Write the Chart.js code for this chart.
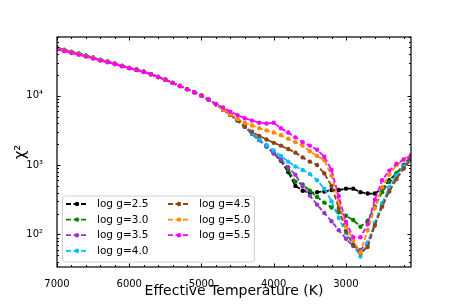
<!DOCTYPE html>
<html>
<head>
<meta charset="utf-8">
<script src="https://cdn.jsdelivr.net/npm/chart.js@4.4.1/dist/chart.umd.min.js"></script>
<style>
  html, body { margin: 0; padding: 0; background: #fff; }
  #wrap { width: 457px; height: 305px; }
</style>
</head>
<body>
<div id="wrap"><canvas id="chi2Chart" width="457" height="305"></canvas></div>
<script>
// Effective temperature grid (K)
const temperatures = [
    7000, 6900, 6800, 6700, 6600, 6500, 6400, 6300, 6200, 6100,
    6000, 5900, 5800, 5700, 5600, 5500, 5400, 5300, 5200, 5100,
    5000, 4900, 4800, 4700, 4600, 4500, 4400, 4300, 4200, 4100,
    4000, 3900, 3800, 3700, 3600, 3500, 3400, 3300, 3200, 3100,
    3000, 2900, 2800, 2700, 2600, 2500, 2400, 2300, 2200, 2100
];

// chi^2 per surface gravity
const chiLogg25 = [
    49000, 45700, 42700, 40300, 37600, 35100, 32700, 30900, 28800, 26900,
    25100, 23700, 22100, 20400, 18600, 17000, 15300, 13800, 12400, 11200,
    10000, 8710, 7500, 6310, 5310, 4420, 3550, 2820, 2290, 1860,
    1480, 1150, 794, 501, 427, 398, 407, 417, 437, 437,
    457, 457, 407, 389, 389, 457, 603, 759, 1000, 1320
];
const chiLogg30 = [
    49000, 45700, 42700, 40300, 37600, 35100, 32700, 30900, 28800, 26900,
    25100, 23700, 22100, 20400, 18600, 17000, 15300, 13800, 12400, 11200,
    10000, 8710, 7500, 6310, 5310, 4420, 3550, 2820, 2290, 1860,
    1480, 1175, 851, 575, 525, 427, 347, 288, 245, 209,
    186, 162, 129, 158, 251, 407, 575, 759, 1000, 1320
];
const chiLogg35 = [
    49000, 45700, 42700, 40300, 37600, 35100, 32700, 30900, 28800, 26900,
    25100, 23700, 22100, 20400, 18600, 17000, 15300, 13800, 12400, 11200,
    10000, 8710, 7500, 6310, 5310, 4420, 3550, 2820, 2290, 1860,
    1480, 1200, 933, 724, 490, 363, 269, 204, 155, 115,
    87, 68, 60, 76, 141, 263, 457, 692, 955, 1260
];
const chiLogg40 = [
    48500, 45300, 42400, 40000, 37400, 35000, 32600, 30800, 28700, 26800,
    25000, 23600, 22000, 20300, 18600, 17000, 15300, 13800, 12400, 11200,
    10000, 8710, 7500, 6310, 5310, 4420, 3630, 2880, 2340, 1950,
    1620, 1350, 1120, 955, 851, 741, 603, 457, 302, 174,
    105, 71, 48, 74, 148, 282, 479, 708, 955, 1200
];
const chiLogg45 = [
    48500, 45300, 42400, 40000, 37400, 35000, 32600, 30800, 28700, 26800,
    25000, 23600, 22000, 20300, 18600, 17000, 15300, 13800, 12400, 11200,
    10000, 8710, 7500, 6310, 5310, 4420, 3630, 3020, 2630, 2340,
    2090, 1905, 1700, 1510, 1290, 1120, 1000, 759, 501, 240,
    112, 71, 54, 66, 135, 251, 417, 631, 891, 1200
];
const chiLogg50 = [
    47500, 44600, 41800, 39500, 37000, 34700, 32400, 30600, 28600, 26700,
    25000, 23600, 22000, 20300, 18600, 17000, 15300, 13800, 12400, 11200,
    10000, 8710, 7500, 6310, 5370, 4620, 4070, 3720, 3390, 3160,
    2950, 2690, 2400, 2140, 1905, 1585, 1350, 1175, 708, 302,
    132, 83, 55, 115, 240, 479, 724, 1000, 1200, 1410
];
const chiLogg55 = [
    46500, 43800, 41200, 38900, 36500, 34200, 32000, 30300, 28300, 26500,
    24800, 23400, 21900, 20300, 18600, 17000, 15300, 13800, 12400, 11200,
    10000, 8710, 7590, 6760, 5890, 5250, 4730, 4370, 4070, 3980,
    4070, 3390, 2950, 2510, 2140, 1905, 1660, 1320, 851, 355,
    151, 91, 91, 141, 316, 603, 832, 1050, 1200, 1380
];

const seriesLabels = ['log g=2.5', 'log g=3.0', 'log g=3.5', 'log g=4.0', 'log g=4.5', 'log g=5.0', 'log g=5.5'];
const seriesValues = [chiLogg25, chiLogg30, chiLogg35, chiLogg40, chiLogg45, chiLogg50, chiLogg55];
const seriesColors = ['#000000', '#008000', '#9932cc', '#00bfff', '#8b4513', '#ff8c00', '#ff00ff'];

// Axis ticks
const xTickValues = [7000, 6000, 5000, 4000, 3000];
const yTickValues = [100, 1000, 10000];
const yTickLabels = ['10\u00b2', '10\u00b3', '10\u2074'];

const FONT = "'DejaVu Sans', sans-serif";

// inward ticks on all four sides + frame, matplotlib style
const frameTicks = {
    id: 'frameTicks',
    afterDatasetsDraw(chart) {
        const { ctx, chartArea: a, scales: { x, y } } = chart;
        ctx.save();
        ctx.strokeStyle = '#000';
        ctx.lineWidth = 1;
        const major = 3.5, minor = 2;

        ctx.beginPath();
        for (let t = 7000; t >= 2100; t -= 200) {
            const px = Math.round(x.getPixelForValue(t)) + 0.5;
            const len = t % 1000 === 0 ? major : minor;
            ctx.moveTo(px, a.bottom); ctx.lineTo(px, a.bottom - len);
            ctx.moveTo(px, a.top); ctx.lineTo(px, a.top + len);
        }
        for (let dec = 10; dec <= 100000; dec *= 10) {
            for (let k = 1; k <= 9; k++) {
                const v = dec * k;
                if (v < y.min || v > y.max) continue;
                const py = Math.round(y.getPixelForValue(v)) + 0.5;
                const len = k === 1 ? major : minor;
                ctx.moveTo(a.left, py); ctx.lineTo(a.left + len, py);
                ctx.moveTo(a.right, py); ctx.lineTo(a.right - len, py);
            }
        }
        ctx.stroke();

        ctx.lineWidth = 1.2;
        ctx.strokeRect(a.left, a.top, a.right - a.left, a.bottom - a.top);
        ctx.restore();
    }
};

// two-column legend in the lower left of the plot
const legendBox = {
    id: 'legendBox',
    afterDraw(chart) {
        const ctx = chart.ctx;
        const a = chart.chartArea;
        const bx = a.left + 5.5, by = a.bottom - 71, bw = 192, bh = 66;
        ctx.save();
        ctx.fillStyle = 'rgba(255,255,255,0.85)';
        ctx.strokeStyle = '#d0d0d0';
        ctx.lineWidth = 1;
        ctx.beginPath();
        ctx.roundRect(bx, by, bw, bh, 3);
        ctx.fill();
        ctx.stroke();

        ctx.font = '10.5px ' + FONT;
        ctx.textBaseline = 'middle';
        chart.data.datasets.forEach((ds, i) => {
            const col = i < 4 ? 0 : 1;
            const row = i < 4 ? i : i - 4;
            const lx = bx + 3.5 + col * 102;
            const ly = by + 8 + row * 15.6;
            ctx.strokeStyle = ds.borderColor;
            ctx.lineWidth = ds.borderWidth;
            ctx.setLineDash(ds.borderDash);
            ctx.beginPath();
            ctx.moveTo(lx, ly);
            ctx.lineTo(lx + 22, ly);
            ctx.stroke();
            ctx.setLineDash([]);
            ctx.fillStyle = ds.borderColor;
            ctx.beginPath();
            ctx.arc(lx + 11, ly, 2.2, 0, Math.PI * 2);
            ctx.fill();
            ctx.fillStyle = '#000';
            ctx.fillText(ds.label, lx + 31, ly + 0.5);
        });
        ctx.restore();
    }
};

const datasets = seriesLabels.map((label, i) => ({
    label: label,
    data: temperatures.map((t, j) => ({ x: t, y: seriesValues[i][j] })),
    borderColor: seriesColors[i],
    backgroundColor: seriesColors[i],
    pointBackgroundColor: seriesColors[i],
    borderWidth: 1.8,
    borderDash: [5, 2.5],
    pointRadius: 2.2,
    pointBorderWidth: 0,
    fill: false,
    tension: 0,
    order: seriesLabels.length - i
}));

new Chart(document.getElementById('chi2Chart'), {
    type: 'line',
    data: { datasets },
    options: {
        responsive: false,
        animation: false,
        layout: { padding: { left: 0, right: 46, top: 37, bottom: 0 } },
        plugins: {
            legend: { display: false },
            tooltip: { enabled: false }
        },
        scales: {
            x: {
                type: 'linear',
                reverse: true,
                min: 2100,
                max: 7000,
                grid: { display: false },
                border: { display: false },
                afterBuildTicks: (scale) => { scale.ticks = xTickValues.map(v => ({ value: v })); },
                afterFit: (scale) => { scale.height = 38; },
                ticks: {
                    color: '#000',
                    padding: 3,
                    maxRotation: 0,
                    font: { family: FONT, size: 10 },
                    callback: (v) => String(v)
                },
                title: {
                    display: true,
                    text: 'Effective Temperature (K)',
                    color: '#000',
                    font: { family: FONT, size: 14 },
                    padding: { top: 0, bottom: 5 }
                }
            },
            y: {
                type: 'logarithmic',
                min: 34,
                max: 70000,
                grid: { display: false },
                border: { display: false },
                afterBuildTicks: (scale) => { scale.ticks = yTickValues.map(v => ({ value: v })); },
                afterFit: (scale) => { scale.width = 57; },
                ticks: {
                    color: '#000',
                    padding: 6,
                    font: { family: FONT, size: 10 },
                    callback: (v) => yTickLabels[yTickValues.indexOf(v)]
                },
                title: {
                    display: true,
                    text: '\u03c7\u00b2',
                    color: '#000',
                    font: { family: FONT, size: 15 },
                    padding: { top: 12, bottom: 0 }
                }
            }
        }
    },
    plugins: [frameTicks, legendBox]
});
</script>
</body>
</html>
